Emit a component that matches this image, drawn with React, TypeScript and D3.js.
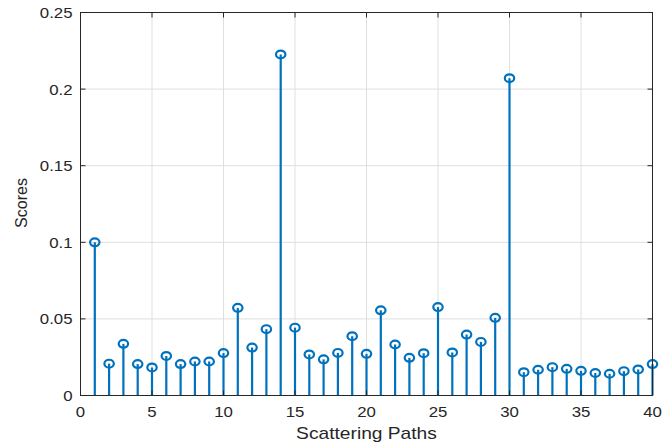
import React from "react";
import * as d3 from "d3";

const paths: number[] = Array.from({ length: 40 }, (_, i) => i + 1);
const scores: number[] = [
  0.1, 0.0208, 0.0337, 0.0205, 0.0183, 0.0258, 0.0205, 0.0222, 0.0222, 0.0277,
  0.0572, 0.0313, 0.0433, 0.2226, 0.0443, 0.0268, 0.0236, 0.0278, 0.0387, 0.0272,
  0.0556, 0.0333, 0.0246, 0.0276, 0.0577, 0.0281, 0.0398, 0.035, 0.0507, 0.2071,
  0.0152, 0.0168, 0.0185, 0.0174, 0.0161, 0.0147, 0.0142, 0.0159, 0.017, 0.0205,
];
const xTicks: number[] = [0, 5, 10, 15, 20, 25, 30, 35, 40];
const yTicks: number[] = [0, 0.05, 0.1, 0.15, 0.2, 0.25];

const W = 672;
const H = 442;
const m = { left: 80.5, right: 652.5, top: 12.5, bottom: 395.5 };

export default function App() {
  const x = d3.scaleLinear().domain([0, 40]).range([m.left, m.right]);
  const y = d3.scaleLinear().domain([0, 0.25]).range([m.bottom, m.top]);
  const font = "Arial, 'Liberation Sans', Helvetica, sans-serif";
  const axisColor = "#262626";
  const stemColor = "#0072BD";
  const tickLen = 5;
  const sx = 1.2;
  return (
    <svg
      width={W}
      height={H}
      style={{ position: "absolute", left: 0, top: 0, background: "#fff" }}
      fontFamily={font}
    >
      {/* grid */}
      {xTicks.slice(1, -1).map((t) => (
        <line key={"gx" + t} x1={x(t)} x2={x(t)} y1={m.top} y2={m.bottom} stroke="#dfdfdf" strokeWidth={1} />
      ))}
      {yTicks.slice(1, -1).map((t) => (
        <line key={"gy" + t} x1={m.left} x2={m.right} y1={y(t)} y2={y(t)} stroke="#dfdfdf" strokeWidth={1} />
      ))}
      {/* stems */}
      {paths.map((p, i) => (
        <g key={"s" + p}>
          <line x1={x(p)} x2={x(p)} y1={y(0)} y2={y(scores[i])} stroke={stemColor} strokeWidth={2.2} />
          <ellipse cx={x(p)} cy={y(scores[i])} rx={4.7} ry={3.9} fill="none" stroke={stemColor} strokeWidth={2.2} />
        </g>
      ))}
      {/* box */}
      <rect x={m.left} y={m.top} width={m.right - m.left} height={m.bottom - m.top} fill="none" stroke={axisColor} strokeWidth={1} />
      {/* ticks */}
      {xTicks.map((t) => (
        <g key={"tx" + t}>
          <line x1={x(t)} x2={x(t)} y1={m.bottom} y2={m.bottom - tickLen} stroke={axisColor} />
          <line x1={x(t)} x2={x(t)} y1={m.top} y2={m.top + tickLen} stroke={axisColor} />
          <text
            transform={`translate(${x(t)},${m.bottom + 21}) scale(${sx},1)`}
            textAnchor="middle"
            fontSize={14}
            fill={axisColor}
          >
            {t}
          </text>
        </g>
      ))}
      {yTicks.map((t) => (
        <g key={"ty" + t}>
          <line x1={m.left} x2={m.left + tickLen} y1={y(t)} y2={y(t)} stroke={axisColor} />
          <line x1={m.right} x2={m.right - tickLen} y1={y(t)} y2={y(t)} stroke={axisColor} />
          <text
            transform={`translate(${m.left - 8},${y(t) + 5.5}) scale(${sx},1)`}
            textAnchor="end"
            fontSize={14}
            fill={axisColor}
          >
            {String(t)}
          </text>
        </g>
      ))}
      <text
        transform={`translate(${(m.left + m.right) / 2},439) scale(${sx},1)`}
        textAnchor="middle"
        fontSize={16}
        fill={axisColor}
      >
        Scattering Paths
      </text>
      <text
        transform={`translate(27,203) rotate(-90)`}
        textAnchor="middle"
        fontSize={16}
        fill={axisColor}
      >
        Scores
      </text>
    </svg>
  );
}
